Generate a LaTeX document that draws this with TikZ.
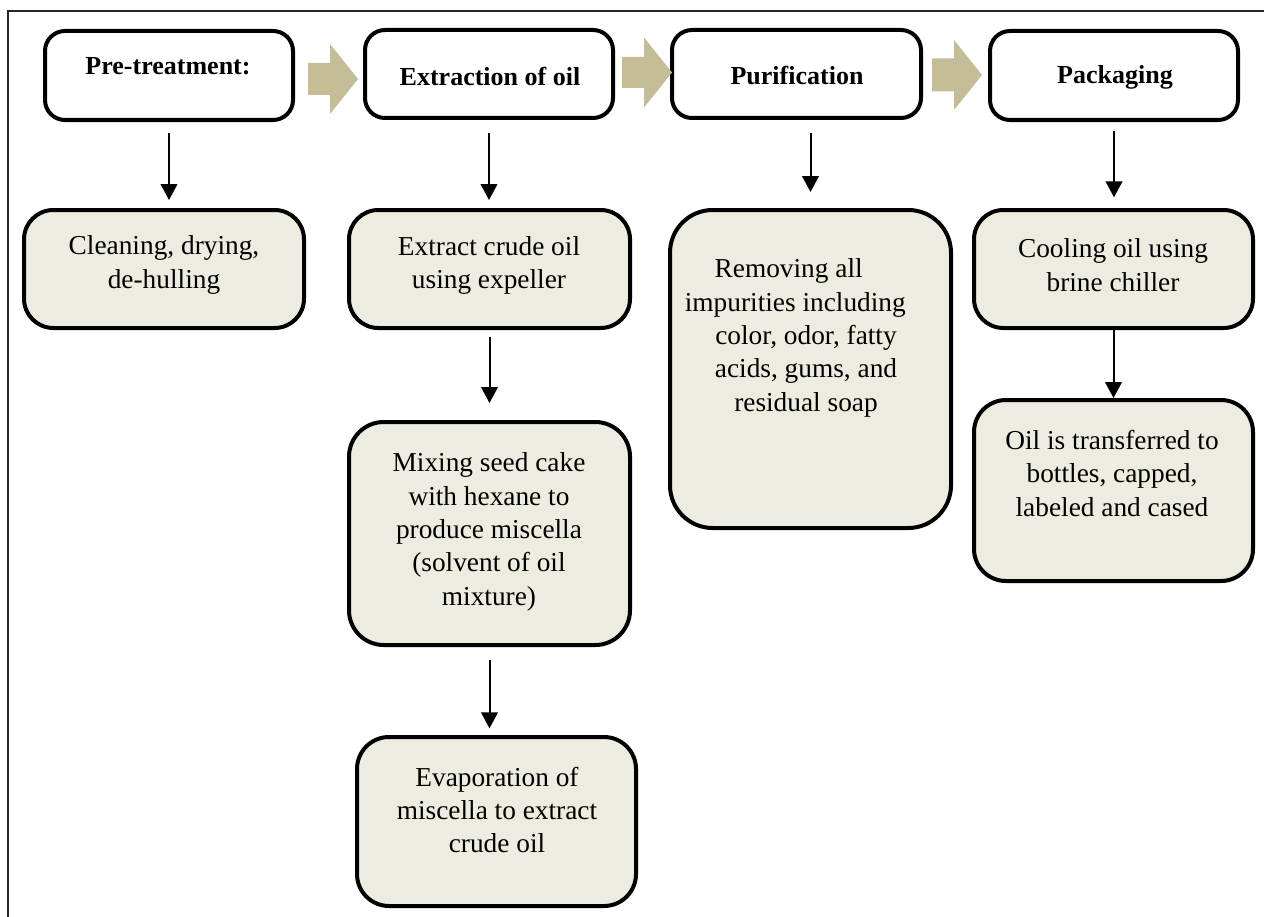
\documentclass[tikz,border=0pt]{standalone}
\usepackage{fontspec}
\setmainfont{Liberation Serif}
\usetikzlibrary{arrows.meta,fit}
\definecolor{boxfill}{HTML}{EEECE1}
\definecolor{arrowfill}{HTML}{C4BD97}
\newcommand\blockarr[3]{\fill[arrowfill] (#1,{#2-#3}) -- ({#1+22},{#2-#3}) -- ({#1+22},{#2-35}) -- ({#1+50},#2) -- ({#1+22},{#2+35}) -- ({#1+22},{#2+#3}) -- (#1,{#2+#3}) -- cycle;}
\begin{document}
\begin{tikzpicture}[x=0.75pt,y=-0.75pt,
  hdr/.style={draw=black, line width=3pt, rounded corners=15pt, fill=white, inner sep=0pt},
  stepbox/.style={draw=black, line width=3pt, fill=boxfill, inner sep=0pt},
  lbl/.style={font=\fontsize{20.5}{25}\selectfont, align=center, inner sep=0pt},
  hlbl/.style={font=\fontsize{19.5}{24}\selectfont\bfseries, inner sep=0pt},
  conn/.style={draw=black, line width=1.5pt, -{Triangle[width=12.5pt,length=12pt]}}]
\useasboundingbox (0,0) rectangle (1264,917);
\clip (0,0) rectangle (1264,917);
\draw[line width=1.5pt, black!85] (8,11) rectangle (1290,940);

% header boxes
\node[hdr, fit={(45,31)(293,120)}] (pre) {};
\node[hdr, fit={(365,30)(613,118)}] (ext) {};
\node[hdr, fit={(672,30)(921,118)}] (pur) {};
\node[hdr, fit={(990,31)(1238,120)}] (pack) {};
\node[hlbl] (tpre) at (168,66) {Pre-treatment:};
\node[hlbl] (text) at (490,76) {Extraction of oil};
\node[hlbl] (tpur) at (797,76) {Purification};
\node[hlbl] (tpack) at (1115,77) {Packaging};

% block arrows
\blockarr{308}{79}{16}
\blockarr{622}{72.5}{15.5}
\blockarr{932}{75}{16.5}

% step boxes
\node[stepbox, rounded corners=22pt, fit={(24,210)(304,328)}] (clean) {};
\node[stepbox, rounded corners=22pt, fit={(349,210)(630,328)}] (extract) {};
\node[stepbox, rounded corners=26pt, fit={(349,422)(630,645)}] (mix) {};
\node[stepbox, rounded corners=24pt, fit={(357,737)(636,906)}] (evap) {};
\node[stepbox, rounded corners=32pt, fit={(670,210)(951,528)}] (remove) {};
\node[stepbox, rounded corners=22pt, fit={(974,210)(1253,328)}] (cool) {};
\node[stepbox, rounded corners=24pt, fit={(974,400)(1253,581)}] (oil) {};

\node[lbl] (tclean) at (164,265) {Cleaning, drying,\\de-hulling};
\node[lbl] (textract) at (489,265.5) {Extract crude oil\\using expeller};
\node[lbl] (tmix) at (489,532) {Mixing seed cake\\with hexane to\\produce miscella\\(solvent of oil\\mixture)};
\node[lbl] (tevap) at (497,810) {Evaporation of\\miscella to extract\\crude oil};
\node[lbl] (tremove) at (806,338) {\hspace*{-26pt}Removing all\\\hspace*{-16pt}impurities including\\color, odor, fatty\\acids, gums, and\\residual soap};
\node[lbl] (tcool) at (1113,265) {Cooling oil using\\brine chiller};
\node[lbl] (toil) at (1112,473.5) {Oil is transferred to\\bottles, capped,\\labeled and cased};

% connectors
\draw[conn, shorten <=8.25pt, shorten >=6pt] (pre.south) -- (pre.south |- clean.north);
\draw[conn, shorten <=9.75pt, shorten >=6pt] (ext.south) -- (ext.south |- extract.north);
\draw[conn, shorten <=9.75pt, shorten >=12pt] (remove.north |- pur.south) -- (remove.north);
\draw[conn, shorten <=7pt, shorten >=8pt] (pack.south) -- (pack.south |- cool.north);
\draw[conn, shorten <=5pt, shorten >=12.75pt] (extract.south) -- (mix.north);
\draw[conn, shorten <=9.75pt, shorten >=5pt] (mix.south) -- (mix.south |- evap.north);
\draw[conn] (cool.south) -- (oil.north);
\end{tikzpicture}
\end{document}
